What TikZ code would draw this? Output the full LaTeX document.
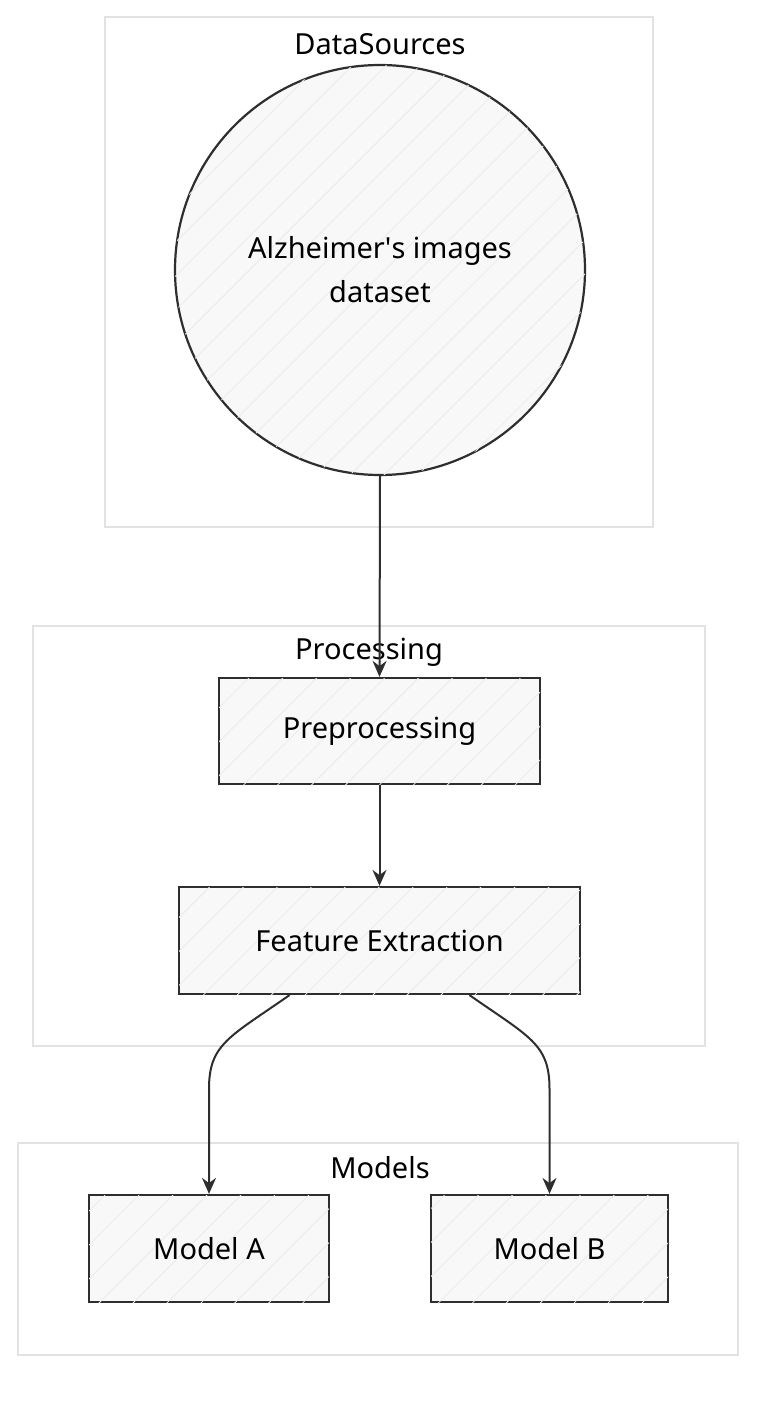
\documentclass[tikz,border=0pt]{standalone}
\usepackage{fontspec}
\setmainfont{Noto Sans}
\usetikzlibrary{arrows.meta,calc,patterns.meta}
\definecolor{inkgray}{HTML}{2E2E2E}
\definecolor{groupgray}{HTML}{E2E2E2}
\definecolor{boxfill}{HTML}{F8F8F8}
\definecolor{hatch}{HTML}{EBEBEB}
\tikzset{
  group/.style={draw=groupgray, line width=1.4pt, inner sep=0pt},
  grouptitle/.style={font=\fontsize{14.5}{17}\selectfont, text=black},
  stage/.style={draw=inkgray, line width=1.1pt, fill=boxfill, inner sep=0pt,
    postaction={pattern={Lines[angle=45,distance=12pt,line width=0.4pt]}, pattern color=hatch},
    font=\fontsize{14.5}{17}\selectfont, align=center},
  flow/.style={draw=inkgray, line width=1pt, -{Stealth[length=8pt,width=7pt]}}
}
\begin{document}
\begin{tikzpicture}[x=0.5pt,y=-0.5pt]
  \useasboundingbox (0,0) rectangle (772,1402);

  %% DataSources
  \node[group, minimum width=274pt, minimum height=255pt] (dsgroup) at (379,272) {};
  \node[grouptitle] (dstitle) at (380,44) {DataSources};
  \node[stage, circle, minimum size=205pt] (dataset) at (380,270)
    {Alzheimer\textquotesingle s images\\[5pt]dataset};

  %% Processing
  \node[group, minimum width=336pt, minimum height=210pt] (procgroup) at (369,836) {};
  \node[grouptitle] (proctitle) at (369,652) {Processing};
  \node[stage, minimum width=160.5pt, minimum height=53pt] (prep) at (379.5,731) {Preprocessing};
  \node[stage, minimum width=200.5pt, minimum height=53.5pt] (feat) at (379.5,940.5) {Feature Extraction};

  %% Models
  \node[group, minimum width=360pt, minimum height=106pt] (modgroup) at (378,1249) {};
  \node[grouptitle] (modtitle) at (380,1168) {Models};
  \node[stage, minimum width=120pt, minimum height=53.5pt] (modela) at (209,1248.5) {Model A};
  \node[stage, minimum width=118.5pt, minimum height=53.5pt] (modelb) at (549.5,1248.5) {Model B};

  %% arrows
  \draw[flow] (dataset.south) -- (prep.north);
  \draw[flow] (prep.south) -- (feat.north);
  \draw[flow] ($(feat.south)+(-90,0)$) .. controls ($(feat.south)+(-150,42)$) and ($(modela.north)+(0,-150)$)
    .. ($(modela.north)+(0,-105)$) -- (modela.north);
  \draw[flow] ($(feat.south)+(90,0)$) .. controls ($(feat.south)+(150,42)$) and ($(modelb.north)+(0,-150)$)
    .. ($(modelb.north)+(0,-105)$) -- (modelb.north);

\end{tikzpicture}
\end{document}
